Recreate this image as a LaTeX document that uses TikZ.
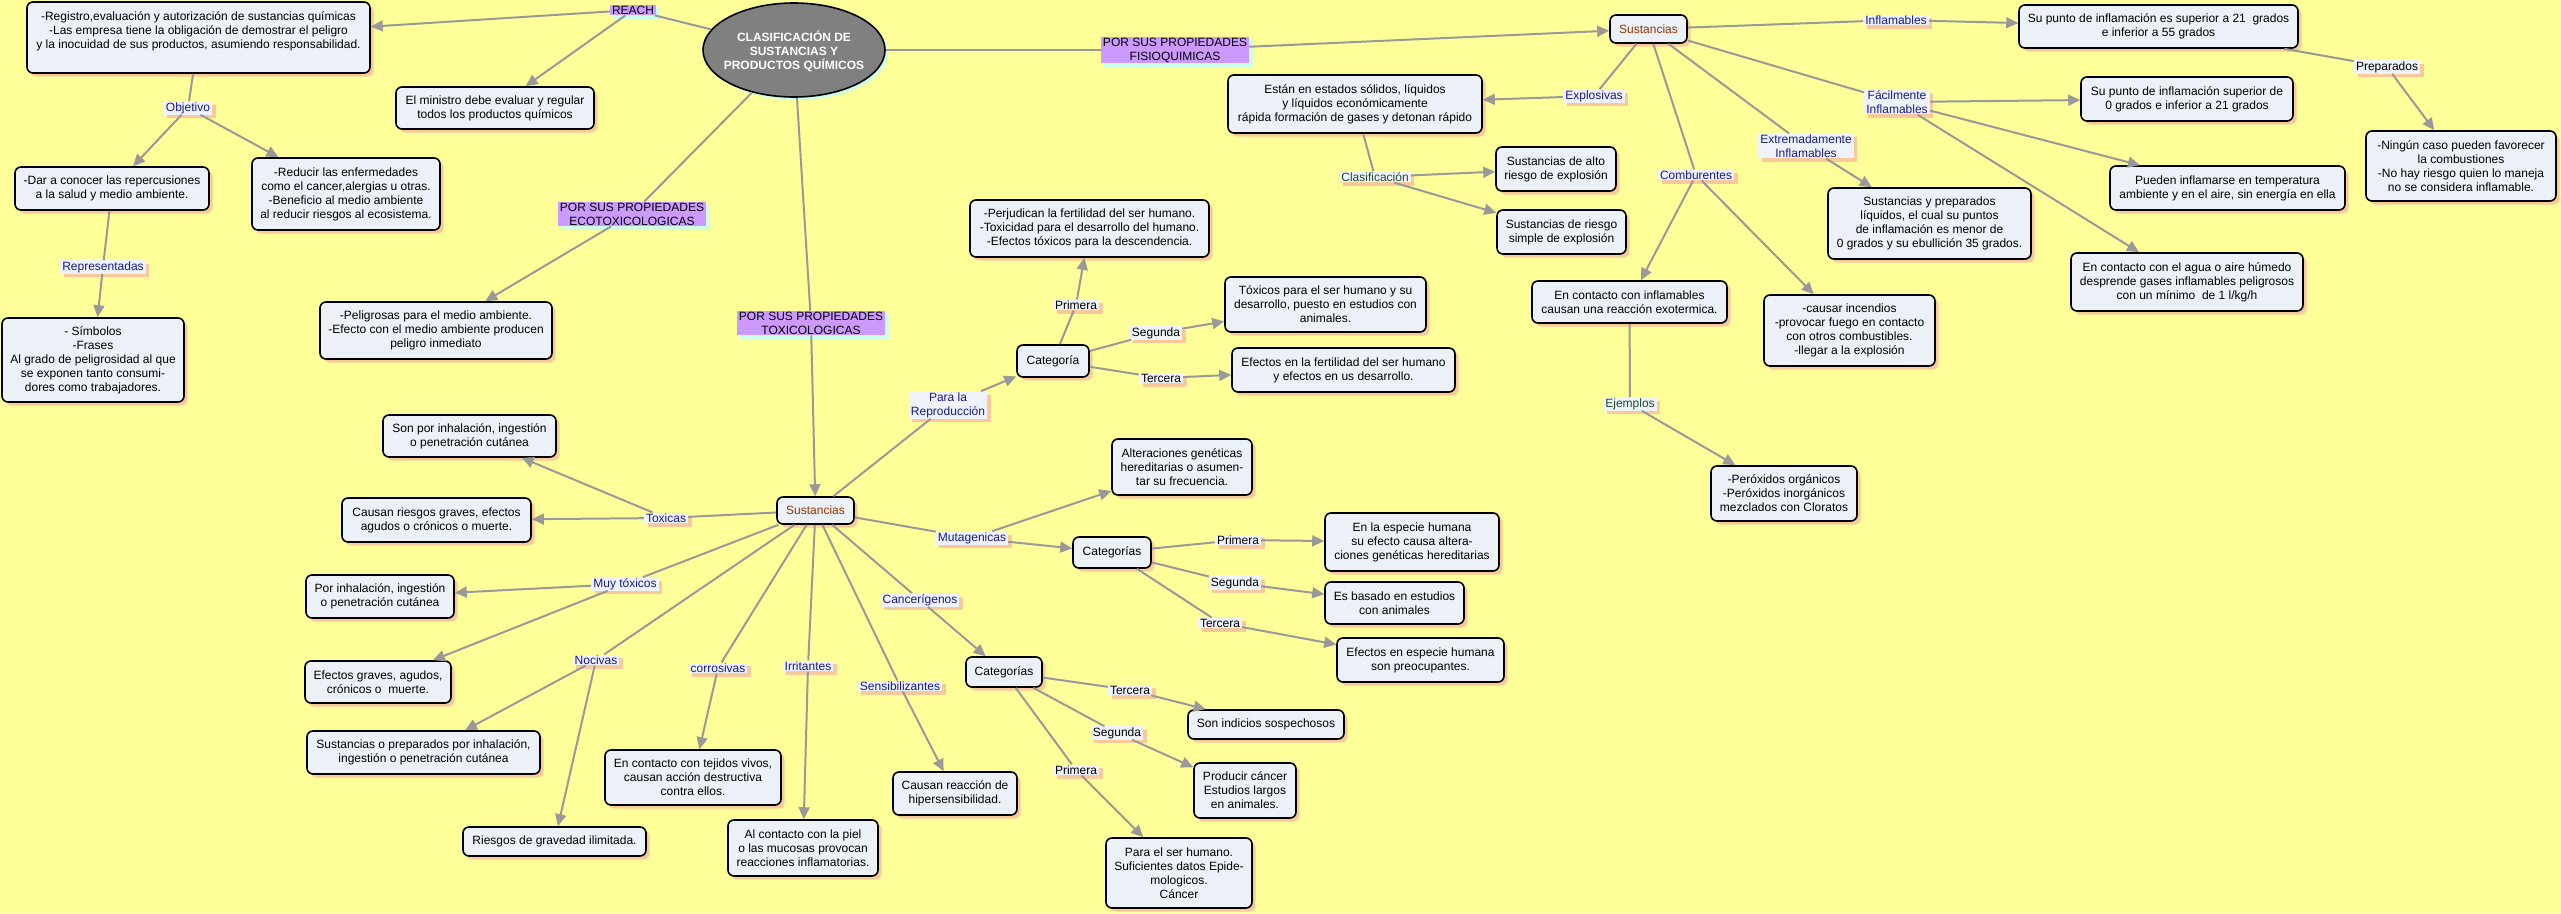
\documentclass[tikz,border=0pt]{standalone}
\usepackage{fontspec}
\setmainfont{Liberation Sans}
\usetikzlibrary{shapes.geometric,shadows,arrows.meta}
\definecolor{bgy}{HTML}{FFFF99}
\definecolor{boxfill}{HTML}{EBF1F7}
\definecolor{shpeach}{HTML}{F9C89B}
\definecolor{shcyan}{HTML}{CCFFE6}
\definecolor{lblfill}{HTML}{EEF3FA}
\definecolor{purp}{HTML}{CC99FF}
\definecolor{navy}{HTML}{1A1A8A}
\definecolor{dgreen}{HTML}{1E4D2B}
\definecolor{brownred}{HTML}{993300}
\definecolor{connc}{HTML}{999999}
\definecolor{ellfill}{HTML}{808080}
\begin{document}
\begin{tikzpicture}[x=1pt,y=-1pt,
 every node/.style={font=\fontsize{12}{14}\selectfont, align=center},
 box/.style={draw=black, line width=1.6pt, rounded corners=6pt, fill=boxfill, inner xsep=3pt, inner ysep=2pt,
   drop shadow={shadow xshift=3.5pt,shadow yshift=-3.5pt,fill=shpeach,opacity=1}},
 lbl/.style={fill=lblfill, text=navy, inner xsep=2pt, inner ysep=1pt,
   drop shadow={shadow xshift=3.5pt,shadow yshift=-3.5pt,fill=shpeach,opacity=1}},
 blbl/.style={lbl, text=black},
 glbl/.style={lbl, text=dgreen},
 plbl/.style={fill=purp, text=black, inner xsep=2pt, inner ysep=1pt,
   drop shadow={shadow xshift=3.5pt,shadow yshift=-3.5pt,fill=shcyan,opacity=1}},
 ln/.style={draw=connc, line width=2pt},
 arr/.style={ln, -{Triangle[length=12pt,width=11pt]}},
]
\useasboundingbox (0,0) rectangle (2561,913);
\fill[bgy] (0,0) rectangle (2561,913);

% main ellipse
\node[ellipse, draw=black, line width=1.6pt, fill=ellfill, minimum width=182pt, minimum height=94pt, inner sep=0pt,
  drop shadow={shadow xshift=3pt,shadow yshift=-3pt,fill=shcyan,opacity=1}] (main) at (794,50) {};
\node[text=white, font=\bfseries\fontsize{12}{14}\selectfont] (maintext) at (794,51) {CLASIFICACIÓN DE\\SUSTANCIAS Y\\PRODUCTOS QUÍMICOS};

% purple labels
\node[plbl] (reach) at (633,10) {REACH};
\node[plbl] (eco) at (632,214) {POR SUS PROPIEDADES\\ECOTOXICOLOGICAS};
\node[plbl] (fisio) at (1175,50) {POR SUS PROPIEDADES\\FISIOQUIMICAS};
\node[plbl] (toxico) at (811,323) {POR SUS PROPIEDADES\\TOXICOLOGICAS};

% REACH branch
\node[box, minimum width=343pt, minimum height=71pt] (A) at (198.5,37.5) {-Registro,evaluación y autorización de sustancias químicas\\-Las empresa tiene la obligación de demostrar el peligro\\y la inocuidad de sus productos, asumiendo responsabilidad.\\~};
\node[box, minimum width=198pt, minimum height=42pt] (B) at (495,108) {El ministro debe evaluar y regular\\todos los productos químicos};
\node[lbl] (objetivo) at (188,108) {Objetivo};
\node[box, minimum width=194pt, minimum height=43pt] (C) at (112,188.5) {-Dar a conocer las repercusiones\\a la salud y medio ambiente.};
\node[box, minimum width=188pt, minimum height=72pt] (D) at (346,194) {-Reducir las enfermedades\\como el cancer,alergias u otras.\\-Beneficio al medio ambiente\\al reducir riesgos al ecosistema.};
\node[lbl] (repres) at (103,267) {Representadas};
\node[box, minimum width=182pt, minimum height=84pt] (E) at (93,360) {- Símbolos\\-Frases\\Al grado de peligrosidad al que\\se exponen tanto consumi-\\dores como trabajadores.};
\node[box, minimum width=232pt, minimum height=57pt] (F) at (436,330.5) {-Peligrosas para el medio ambiente.\\-Efecto con el medio ambiente producen\\peligro inmediato};

% Fisicoquimicas branch
\node[box, minimum width=77pt, minimum height=28pt, text=brownred] (sfis) at (1648.5,29) {Sustancias};
\node[lbl] (explos) at (1594,96) {Explosivas};
\node[box, minimum width=254pt, minimum height=58pt] (K) at (1355,104) {Están en estados sólidos, líquidos\\y líquidos económicamente\\rápida formación de gases y detonan rápido};
\node[glbl] (clasif) at (1375,177) {Clasificación};
\node[box, minimum width=120pt, minimum height=44pt] (L) at (1556,169) {Sustancias de alto\\riesgo de explosión};
\node[box, minimum width=129pt, minimum height=44pt] (M) at (1561.5,232) {Sustancias de riesgo\\simple de explosión};
\node[lbl] (combur) at (1696,175) {Comburentes};
\node[box, minimum width=195pt, minimum height=42pt] (N) at (1629.5,302) {En contacto con inflamables\\causan una reacción exotermica.};
\node[box, minimum width=171pt, minimum height=71pt] (O) at (1849.5,330.5) {-causar incendios\\-provocar fuego en contacto\\con otros combustibles.\\-llegar a la explosión};
\node[glbl] (ejemplos) at (1630,404) {Ejemplos};
\node[box, minimum width=146pt, minimum height=55pt] (P) at (1784,493.5) {-Peróxidos orgánicos\\-Peróxidos inorgánicos\\mezclados con Cloratos};
\node[lbl] (extrem) at (1806,146) {Extremadamente\\Inflamables};
\node[box, minimum width=203pt, minimum height=71pt] (Q) at (1929.5,223.5) {Sustancias y preparados\\líquidos, el cual su puntos\\de inflamación es menor de\\0 grados y su ebullición 35 grados.};
\node[lbl] (facil) at (1897,102) {Fácilmente\\Inflamables};
\node[lbl] (inflam) at (1896,20) {Inflamables};
\node[box, minimum width=279pt, minimum height=43pt] (R) at (2158.5,26.5) {Su punto de inflamación es superior a 21\ \ grados\\e inferior a 55 grados};
\node[blbl] (prep) at (2387,67) {Preparados};
\node[box, minimum width=190pt, minimum height=70pt] (S) at (2461,166) {-Ningún caso pueden favorecer\\la combustiones\\-No hay riesgo quien lo maneja\\no se considera inflamable.};
\node[box, minimum width=212pt, minimum height=44pt] (T) at (2187,99) {Su punto de inflamación superior de\\0 grados e inferior a 21 grados};
\node[box, minimum width=235pt, minimum height=44pt] (U) at (2227.5,188) {Pueden inflamarse en temperatura\\ambiente y en el aire, sin energía en ella};
\node[box, minimum width=232pt, minimum height=58pt] (V) at (2187,282) {En contacto con el agua o aire húmedo\\desprende gases inflamables peligrosos\\con un mínimo\ \ de 1 l/kg/h};

% Toxicologicas branch
\node[box, minimum width=77pt, minimum height=27pt, text=brownred] (stox) at (815.5,510.5) {Sustancias};
\node[lbl] (toxicas) at (666,518) {Toxicas};
\node[box, minimum width=173pt, minimum height=42pt] (G) at (469.5,436) {Son por inhalación, ingestión\\o penetración cutánea};
\node[box, minimum width=189pt, minimum height=44pt] (W) at (436.5,520) {Causan riesgos graves, efectos\\agudos o crónicos o muerte.};
\node[lbl] (muytox) at (625,584) {Muy tóxicos};
\node[box, minimum width=148pt, minimum height=43pt] (X) at (380,596.5) {Por inhalación, ingestión\\o penetración cutánea};
\node[box, minimum width=146pt, minimum height=42pt] (Y) at (378,682) {Efectos graves, agudos,\\crónicos o\ \ muerte.};
\node[lbl] (nocivas) at (596,660) {Nocivas};
\node[box, minimum width=233pt, minimum height=43pt] (Z) at (423.5,752.5) {Sustancias o preparados por inhalación,\\ingestión o penetración cutánea};
\node[box, minimum width=183pt, minimum height=29pt] (AA) at (554.5,841.5) {Riesgos de gravedad ilimitada.};
\node[lbl] (corros) at (718,668) {corrosivas};
\node[box, minimum width=176pt, minimum height=55pt] (AK) at (693,777.5) {En contacto con tejidos vivos,\\causan acción destructiva\\contra ellos.};
\node[lbl] (irrit) at (808,666) {Irritantes};
\node[box, minimum width=150pt, minimum height=56pt] (AJ) at (803,848) {Al contacto con la piel\\o las mucosas provocan\\reacciones inflamatorias.};
\node[lbl] (sensib) at (900,686) {Sensibilizantes};
\node[box, minimum width=124pt, minimum height=43pt] (AI) at (955,793.5) {Causan reacción de\\hipersensibilidad.};
\node[lbl] (cancer) at (920,600) {Cancerígenos};
\node[box, minimum width=76pt, minimum height=30pt] (cat2) at (1004,672) {Categorías};
\node[blbl] (ter2) at (1130,690) {Tercera};
\node[blbl] (seg2) at (1117,733) {Segunda};
\node[blbl] (pri2) at (1076,770) {Primera};
\node[box, minimum width=156pt, minimum height=29pt] (AF) at (1266,724.5) {Son indicios sospechosos};
\node[box, minimum width=102pt, minimum height=55pt] (AG) at (1245,790.5) {Producir cáncer\\Estudios largos\\en animales.};
\node[box, minimum width=146pt, minimum height=70pt] (AH) at (1179,873) {Para el ser humano.\\Suficientes datos Epide-\\mologicos.\\Cáncer};
\node[lbl] (mutag) at (972,538) {Mutagenicas};
\node[box, minimum width=140pt, minimum height=56pt] (AB) at (1182,467) {Alteraciones genéticas\\hereditarias o asumen-\\tar su frecuencia.};
\node[box, minimum width=78pt, minimum height=31pt] (cat1) at (1112,552.5) {Categorías};
\node[blbl] (pri1) at (1238,540) {Primera};
\node[blbl] (seg1) at (1235,583) {Segunda};
\node[blbl] (ter1) at (1220,623) {Tercera};
\node[box, minimum width=174pt, minimum height=58pt] (AC) at (1412,542) {En la especie humana\\su efecto causa altera-\\ciones genéticas hereditarias};
\node[box, minimum width=139pt, minimum height=42pt] (AD) at (1394.5,603) {Es basado en estudios\\con animales};
\node[box, minimum width=167pt, minimum height=44pt] (AE) at (1420.5,660) {Efectos en especie humana\\son preocupantes.};
\node[lbl] (para) at (948,405) {Para la\\Reproducción};
\node[box, minimum width=72pt, minimum height=32pt] (cat) at (1053,361) {Categoría};
\node[blbl] (pri0) at (1076,305) {Primera};
\node[blbl] (seg0) at (1156,333) {Segunda};
\node[blbl] (ter0) at (1161,378) {Tercera};
\node[box, minimum width=239pt, minimum height=57pt] (H) at (1089.5,228.5) {-Perjudican la fertilidad del ser humano.\\-Toxicidad para el desarrollo del humano.\\-Efectos tóxicos para la descendencia.};
\node[box, minimum width=201pt, minimum height=55pt] (I) at (1325.5,304.5) {Tóxicos para el ser humano y su\\desarrollo, puesto en estudios con\\animales.};
\node[box, minimum width=223pt, minimum height=44pt] (J) at (1343.5,370) {Efectos en la fertilidad del ser humano\\y efectos en us desarrollo.};

% connectors
\draw[ln] (main) -- (reach);
\draw[arr] (reach) -- (A);
\draw[arr] (reach) -- (B);
\draw[ln] (A) -- (objetivo);
\draw[arr] (objetivo) -- (C);
\draw[arr] (objetivo) -- (D);
\draw[ln] (C) -- (repres);
\draw[arr] (repres) -- (E);
\draw[ln] (main) -- (eco);
\draw[arr] (eco) -- (F);
\draw[ln] (main) -- (fisio);
\draw[arr] (fisio) -- (sfis);
\draw[ln] (main) -- (toxico);
\draw[arr] (toxico) -- (stox);

\draw[ln] (sfis) -- (explos);
\draw[arr] (explos) -- (K);
\draw[ln] (K) -- (clasif);
\draw[arr] (clasif) -- (L);
\draw[arr] (clasif) -- (M);
\draw[ln] (sfis) -- (combur);
\draw[arr] (combur) -- (N);
\draw[arr] (combur) -- (O);
\draw[ln] (N) -- (ejemplos);
\draw[arr] (ejemplos) -- (P);
\draw[ln] (sfis) -- (extrem);
\draw[arr] (extrem) -- (Q);
\draw[ln] (sfis) -- (facil);
\draw[arr] (facil) -- (T);
\draw[arr] (facil) -- (U);
\draw[arr] (facil) -- (V);
\draw[ln] (sfis) -- (inflam);
\draw[arr] (inflam) -- (R);
\draw[ln] (R) -- (prep);
\draw[arr] (prep) -- (S);

\draw[ln] (stox) -- (toxicas);
\draw[arr] (toxicas) -- (G);
\draw[arr] (toxicas) -- (W);
\draw[ln] (stox) -- (muytox);
\draw[arr] (muytox) -- (X);
\draw[arr] (muytox) -- (Y);
\draw[ln] (stox) -- (nocivas);
\draw[arr] (nocivas) -- (Z);
\draw[arr] (nocivas) -- (AA);
\draw[ln] (stox) -- (corros);
\draw[arr] (corros) -- (AK);
\draw[ln] (stox) -- (irrit);
\draw[arr] (irrit) -- (AJ);
\draw[ln] (stox) -- (sensib);
\draw[arr] (sensib) -- (AI);
\draw[ln] (stox) -- (cancer);
\draw[arr] (cancer) -- (cat2);
\draw[ln] (cat2) -- (ter2);
\draw[arr] (ter2) -- (AF);
\draw[ln] (cat2) -- (seg2);
\draw[arr] (seg2) -- (AG);
\draw[ln] (cat2) -- (pri2);
\draw[arr] (pri2) -- (AH);
\draw[ln] (stox) -- (mutag);
\draw[arr] (mutag) -- (AB);
\draw[arr] (mutag) -- (cat1);
\draw[ln] (cat1) -- (pri1);
\draw[arr] (pri1) -- (AC);
\draw[ln] (cat1) -- (seg1);
\draw[arr] (seg1) -- (AD);
\draw[ln] (cat1) -- (ter1);
\draw[arr] (ter1) -- (AE);
\draw[ln] (stox) -- (para);
\draw[arr] (para) -- (cat);
\draw[ln] (cat) -- (pri0);
\draw[arr] (pri0) -- (H);
\draw[ln] (cat) -- (seg0);
\draw[arr] (seg0) -- (I);
\draw[ln] (cat) -- (ter0);
\draw[arr] (ter0) -- (J);
\end{tikzpicture}
\end{document}
